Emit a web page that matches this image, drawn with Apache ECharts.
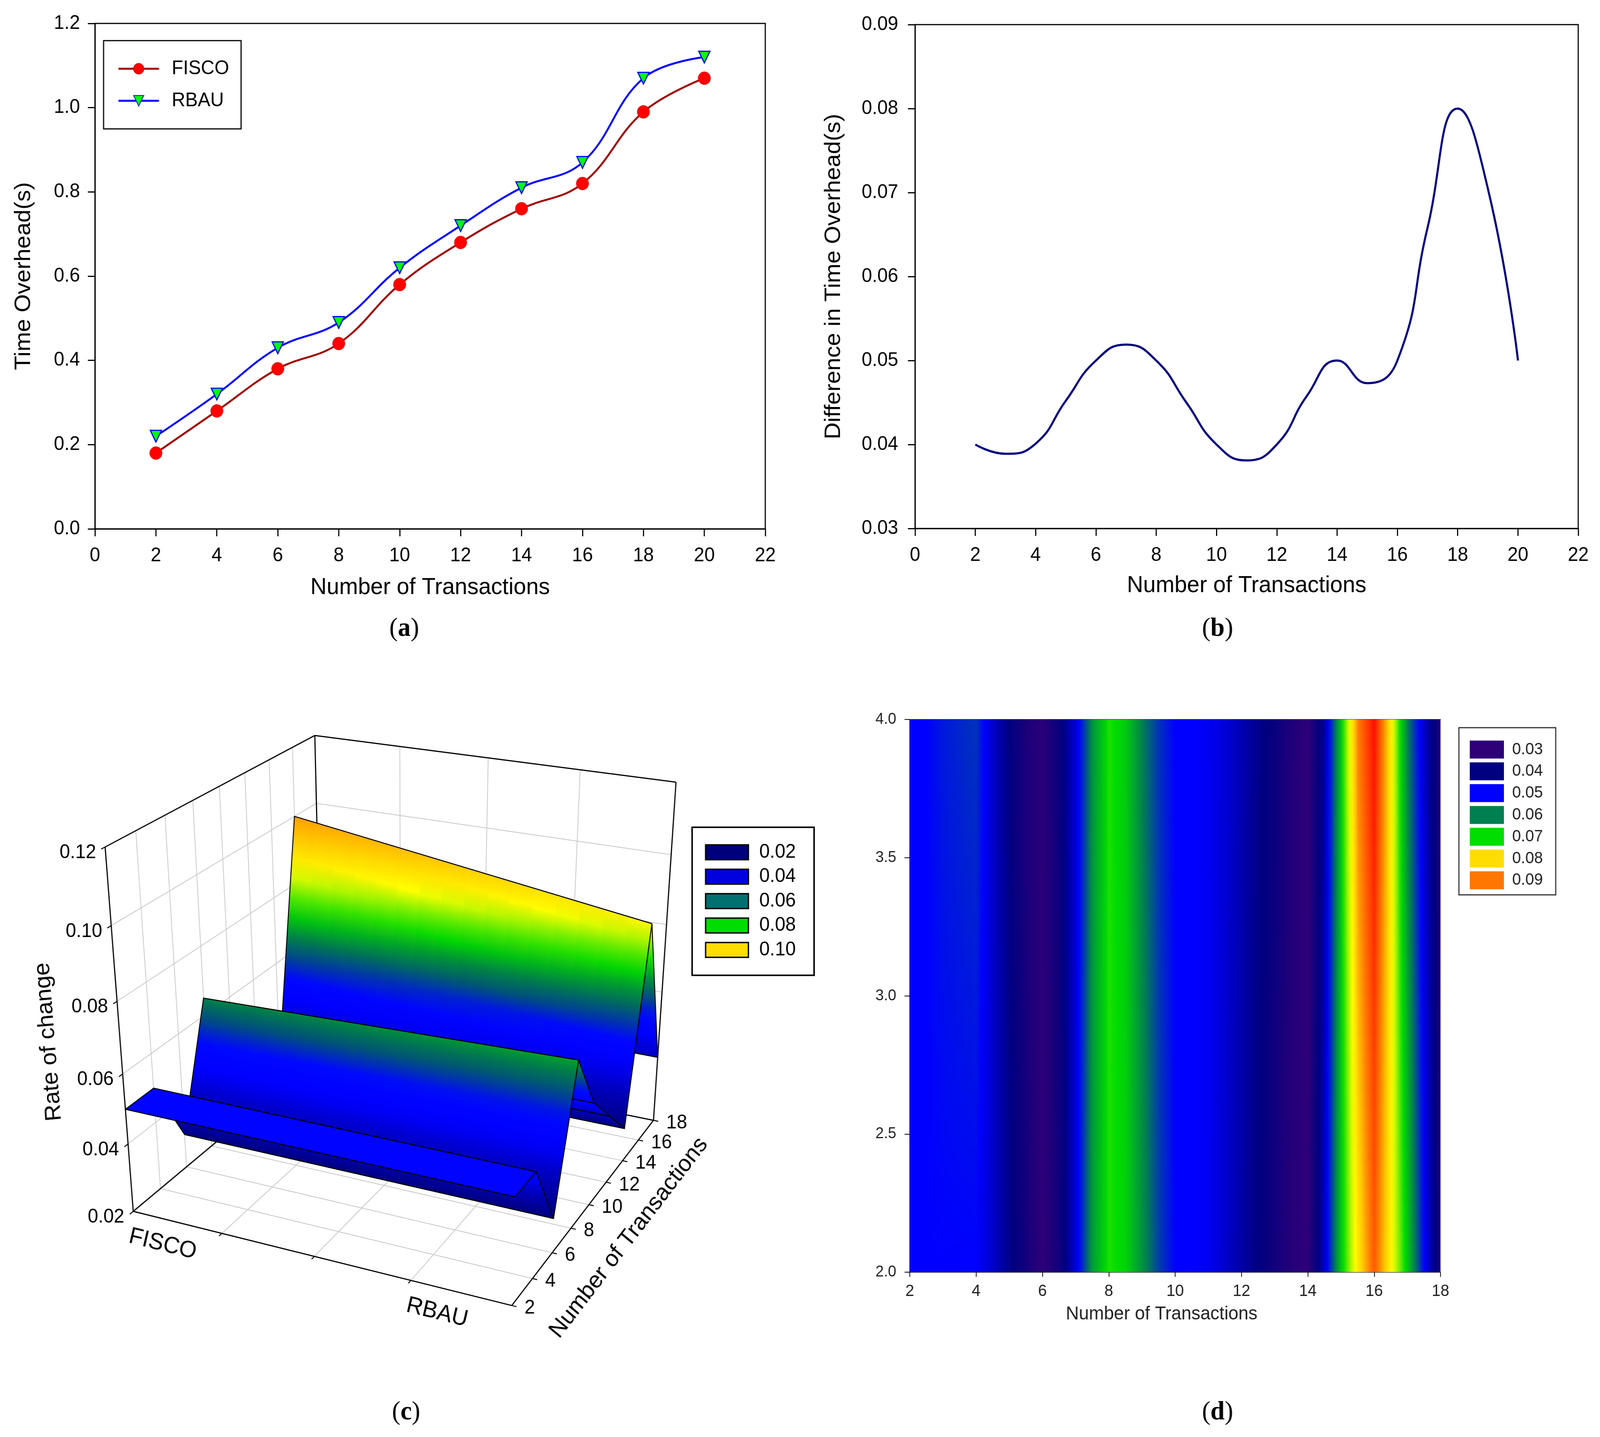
<!DOCTYPE html>
<html>
<head>
<meta charset="utf-8">
<title>Time overhead and rate of change</title>
<script src="https://cdn.jsdelivr.net/npm/echarts@6.0.0/dist/echarts.min.js"></script>
<style>
  html, body { margin: 0; padding: 0; background: #fff; overflow: hidden; }
  #main { width: 4263px; height: 3679px; transform-origin: 0 0; }
</style>
</head>
<body>
<div id="main"></div>
<script>
// (a) time overhead
var transactions = [2, 4, 6, 8, 10, 12, 14, 16, 18, 20];
var fiscoTime = [0.18, 0.28, 0.38, 0.44, 0.58, 0.68, 0.76, 0.82, 0.99, 1.07];
var rbauTime = [0.22, 0.32, 0.43, 0.49, 0.62, 0.72, 0.81, 0.87, 1.07, 1.12];

// (b) difference at every transaction count
var diffTransactions = [2, 3, 4, 5, 6, 7, 8, 9, 10, 11, 12, 13, 14, 15, 16, 17, 18, 19, 20];
var timeDiff = [0.0400, 0.0389, 0.0401, 0.0452, 0.0500, 0.0519, 0.0500, 0.0450, 0.0400, 0.0381,
  0.0400, 0.0458, 0.0500, 0.0473, 0.0500, 0.0658, 0.0800, 0.0705, 0.0500];

// (c) rate of change surface
var rateGroups = ['FISCO', 'RBAU'];
var rateTransactions = [2, 4, 6, 8, 10, 12, 14, 16, 18];
var rateFisco = [0.050, 0.050, 0.030, 0.065, 0.050, 0.040, 0.030, 0.100, 0.040];
var rateRbau = [0.050, 0.050, 0.030, 0.068, 0.050, 0.040, 0.030, 0.085, 0.040];
var rateTicks = [0.02, 0.04, 0.06, 0.08, 0.10, 0.12];
var rateLegendLevels = [0.02, 0.04, 0.06, 0.08, 0.10];

// (d) contour, read along the two edges y = 2.0 and y = 4.0
var contourX = [2, 2.5, 3, 3.5, 4, 4.5, 5, 5.5, 6, 6.5, 7, 7.5, 8, 8.5, 9, 9.5, 10,
  10.5, 11, 11.5, 12, 12.5, 13, 13.5, 14, 14.5, 15, 15.5, 16, 16.5, 17, 17.5, 18];
var contourRows = [2.0, 4.0];
var contourAt2 = [0.050, 0.050, 0.050, 0.050, 0.050, 0.046, 0.041, 0.036, 0.030, 0.036, 0.047,
  0.063, 0.071, 0.069, 0.062, 0.055, 0.050, 0.050, 0.049, 0.046, 0.043, 0.040, 0.036, 0.032,
  0.030, 0.046, 0.068, 0.082, 0.093, 0.081, 0.068, 0.050, 0.035];
var contourAt4 = [0.050, 0.050, 0.052, 0.053, 0.054, 0.046, 0.040, 0.034, 0.031, 0.038, 0.047,
  0.062, 0.071, 0.068, 0.060, 0.054, 0.050, 0.050, 0.049, 0.047, 0.044, 0.041, 0.038, 0.033,
  0.030, 0.043, 0.068, 0.090, 0.099, 0.082, 0.060, 0.046, 0.034];
var contourLegendLevels = [0.03, 0.04, 0.05, 0.06, 0.07, 0.08, 0.09];

// colours
var rateLegendColors = ['#00007c', '#0000e0', '#007070', '#00dd00', '#ffdd00'];
var rateRamp = [[0.020, '#000058'], [0.030, '#000080'], [0.040, '#0000c0'], [0.047, '#0000ff'],
  [0.054, '#0008ff'], [0.060, '#00507a'], [0.066, '#008840'], [0.072, '#00d800'],
  [0.078, '#70ee00'], [0.084, '#ffff00'], [0.092, '#ffd200'], [0.100, '#ffa000'], [0.120, '#ff6000']];
var contourLegendColors = ['#2e0078', '#000080', '#0000ff', '#008050', '#00dd00', '#ffdd00', '#ff7700'];
var contourRamp = [[0.030, '#2e0078'], [0.040, '#000080'], [0.050, '#0000ff'], [0.060, '#008050'],
  [0.070, '#00dd00'], [0.075, '#90f000'], [0.080, '#ffff00'], [0.085, '#ffd000'],
  [0.090, '#ff8000'], [0.100, '#ff0000']];

var SANS = 'Liberation Sans';
var SERIF = 'Liberation Serif';

function hexRgb(h) {
  return [parseInt(h.slice(1, 3), 16), parseInt(h.slice(3, 5), 16), parseInt(h.slice(5, 7), 16)];
}
function rampColor(ramp, v) {
  if (v <= ramp[0][0]) return ramp[0][1];
  for (var i = 1; i < ramp.length; i++) {
    if (v <= ramp[i][0]) {
      var t = (v - ramp[i - 1][0]) / (ramp[i][0] - ramp[i - 1][0]);
      var a = hexRgb(ramp[i - 1][1]), b = hexRgb(ramp[i][1]);
      return 'rgb(' + Math.round(a[0] + (b[0] - a[0]) * t) + ',' +
        Math.round(a[1] + (b[1] - a[1]) * t) + ',' + Math.round(a[2] + (b[2] - a[2]) * t) + ')';
    }
  }
  return ramp[ramp.length - 1][1];
}

// ---- 3D box of panel (c): perspective fitted to where the box corners sit on the page
// [u (group), v (transactions), w (rate), pageX, pageY], all of u, v, w in 0..1
var boxRefs = [
  [0, 0, 0, 356, 3100], [0, 0, 1, 281, 2168], [1, 0, 0, 1362, 3342],
  [1, 1, 0, 1742, 2867], [1, 1, 1, 1801, 2003], [0, 1, 1, 837, 1883],
  [0, 0, 0.2, 342, 2930], [0, 0, 0.4, 327, 2752], [0, 0, 0.6, 312, 2565], [0, 0, 0.8, 296, 2366],
  [0.25, 0, 0, 590, 3157], [0.5, 0, 0, 835, 3217], [0.75, 0, 0, 1097, 3279],
  [0.25, 1, 1, 1066, 1911], [0.5, 1, 1, 1301, 1941], [0.75, 1, 1, 1546, 1971]
];

function fitProjection(refs) {
  var n = 11, M = [], b = [], i, j;
  for (i = 0; i < n; i++) { M.push([0, 0, 0, 0, 0, 0, 0, 0, 0, 0, 0]); b.push(0); }
  refs.forEach(function (q) {
    var X = q[0], Y = q[1], Z = q[2], x = (q[3] - 1000) / 1000, y = (q[4] - 2600) / 1000;
    [[[X, Y, Z, 1, 0, 0, 0, 0, -x * X, -x * Y, -x * Z], x],
     [[0, 0, 0, 0, X, Y, Z, 1, -y * X, -y * Y, -y * Z], y]].forEach(function (eq) {
      var row = eq[0];
      for (var r = 0; r < n; r++) {
        b[r] += row[r] * eq[1];
        for (var c = 0; c < n; c++) M[r][c] += row[r] * row[c];
      }
    });
  });
  for (var c = 0; c < n; c++) {
    var piv = c;
    for (i = c + 1; i < n; i++) if (Math.abs(M[i][c]) > Math.abs(M[piv][c])) piv = i;
    var tmp = M[c]; M[c] = M[piv]; M[piv] = tmp;
    var tb = b[c]; b[c] = b[piv]; b[piv] = tb;
    for (i = c + 1; i < n; i++) {
      var f = M[i][c] / M[c][c];
      for (j = c; j < n; j++) M[i][j] -= f * M[c][j];
      b[i] -= f * b[c];
    }
  }
  var p = new Array(n);
  for (i = n - 1; i >= 0; i--) {
    var s = b[i];
    for (j = i + 1; j < n; j++) s -= M[i][j] * p[j];
    p[i] = s / M[i][i];
  }
  return p;
}
var P = fitProjection(boxRefs);
function project(u, v, w) {
  var d = P[8] * u + P[9] * v + P[10] * w + 1;
  return [1000 + 1000 * (P[0] * u + P[1] * v + P[2] * w + P[3]) / d,
          2600 + 1000 * (P[4] * u + P[5] * v + P[6] * w + P[7]) / d];
}
function ntToV(nt) { return (nt - 2) / 16; }
function rateToW(r) { return (r - 0.02) / 0.10; }
function unit(a, b) {
  var dx = b[0] - a[0], dy = b[1] - a[1], l = Math.sqrt(dx * dx + dy * dy) || 1;
  return [dx / l, dy / l];
}

function renderFrame(params, api) {
  var els = [];
  var gray = '#c8c8c8';
  function seg(a, b, color, width) {
    els.push({ type: 'line', silent: true, shape: { x1: a[0], y1: a[1], x2: b[0], y2: b[1] },
      style: { stroke: color, lineWidth: width } });
  }
  function label(x, y, text, size, align, rotation) {
    els.push({ type: 'text', silent: true, x: x, y: y, rotation: rotation || 0,
      style: { text: text, fill: '#000', fontSize: size, fontFamily: SANS,
        align: align, verticalAlign: 'middle' } });
  }
  var vTicks = rateTransactions.map(ntToV);
  var wTicks = rateTicks.map(rateToW);
  var uTicks = [0.25, 0.5, 0.75];
  vTicks.forEach(function (v) { if (v > 0 && v < 1) seg(project(0, v, 0), project(0, v, 1), gray, 2); });
  wTicks.forEach(function (w) { if (w > 0 && w < 1) seg(project(0, 0, w), project(0, 1, w), gray, 2); });
  uTicks.forEach(function (u) { seg(project(u, 1, 0), project(u, 1, 1), gray, 2); });
  wTicks.forEach(function (w) { if (w > 0 && w < 1) seg(project(0, 1, w), project(1, 1, w), gray, 2); });
  uTicks.forEach(function (u) { seg(project(u, 0, 0), project(u, 1, 0), gray, 2); });
  vTicks.forEach(function (v) { if (v > 0 && v < 1) seg(project(0, v, 0), project(1, v, 0), gray, 2); });

  [[0, 0, 0, 0, 0, 1], [0, 0, 1, 0, 1, 1], [0, 1, 1, 1, 1, 1], [1, 1, 1, 1, 1, 0],
   [1, 1, 0, 1, 0, 0], [1, 0, 0, 0, 0, 0], [0, 1, 1, 0, 1, 0], [0, 1, 0, 1, 1, 0],
   [0, 0, 0, 0, 1, 0]].forEach(function (e) {
    seg(project(e[0], e[1], e[2]), project(e[3], e[4], e[5]), '#000', 3);
  });

  wTicks.forEach(function (w, k) {
    var p = project(0, 0, w), d = unit(p, project(0, -0.1, w));
    seg(p, [p[0] + d[0] * 12, p[1] + d[1] * 12], '#000', 2.5);
    label(p[0] - 24, p[1] + 15, rateTicks[k].toFixed(2), 50, 'right');
  });
  vTicks.forEach(function (v, k) {
    var p = project(1, v, 0), d = unit(p, project(1.1, v, 0));
    seg(p, [p[0] + d[0] * 13, p[1] + d[1] * 13], '#000', 2.5);
    label(p[0] + 34, p[1] + 7, String(rateTransactions[k]), 50, 'left');
  });
  uTicks.forEach(function (u) {
    var p = project(u, 0, 0), d = unit(p, project(u, -0.1, 0));
    seg(p, [p[0] + d[0] * 10, p[1] + d[1] * 10], '#000', 2.5);
  });
  var e = unit(project(0, 0, 0), project(1, 0, 0));
  var groupU = [0.1, 0.83];
  rateGroups.forEach(function (g, k) {
    var p = project(groupU[k], 0, 0);
    label(p[0] - e[1] * 64, p[1] + e[0] * 64, g, 60, 'center', -Math.atan2(e[1], e[0]));
  });
  var zMid = project(0, 0, 0.5), zDir = unit(project(0, 0, 0), project(0, 0, 1));
  label(zMid[0] - 190, zMid[1] + 10, 'Rate of change', 60, 'center', Math.atan2(-zDir[1], zDir[0]));
  var yMid = project(1, 0.5, 0), yDir = unit(project(1, 0, 0), project(1, 1, 0));
  label(yMid[0] - yDir[1] * 136, yMid[1] + yDir[0] * 136, 'Number of Transactions', 60, 'center',
    Math.atan2(-yDir[1], yDir[0]));
  return { type: 'group', children: els };
}

function surfaceRate(u, i) { return rateFisco[i] + (rateRbau[i] - rateFisco[i]) * u; }
function surfacePoint(u, i) {
  return project(u, ntToV(rateTransactions[i]), rateToW(surfaceRate(u, i)));
}

function renderStrip(params, api) {
  var i = api.value(0), pieces = 16, kids = [];
  for (var k = 0; k < pieces; k++) {
    var ua = k / pieces, ub = Math.min(1, (k + 1.3) / pieces), uc = (k + 0.5) / pieces;
    var a0 = surfacePoint(ua, i), b0 = surfacePoint(ub, i);
    var b1 = surfacePoint(ub, i + 1), a1 = surfacePoint(ua, i + 1);
    var z0 = surfaceRate(uc, i), z1 = surfaceRate(uc, i + 1);
    var c0 = surfacePoint(uc, i), c1 = surfacePoint(uc, i + 1);
    var ed = unit(a0, b0), nx = -ed[1], ny = ed[0];
    var dist = (c1[0] - c0[0]) * nx + (c1[1] - c0[1]) * ny;
    var fill;
    if (Math.abs(dist) < 1 || Math.abs(z1 - z0) < 1e-6) {
      fill = rampColor(rateRamp, (z0 + z1) / 2);
    } else {
      var stops = [];
      for (var s = 0; s <= 12; s++) {
        stops.push({ offset: s / 12, color: rampColor(rateRamp, z0 + (z1 - z0) * s / 12) });
      }
      fill = new echarts.graphic.LinearGradient(c0[0], c0[1], c0[0] + dist * nx, c0[1] + dist * ny, stops, true);
    }
    kids.push({ type: 'polygon', silent: true, shape: { points: [a0, b0, b1, a1] }, style: { fill: fill } });
  }
  kids.push({ type: 'polygon', silent: true,
    shape: { points: [surfacePoint(0, i), surfacePoint(1, i), surfacePoint(1, i + 1), surfacePoint(0, i + 1)] },
    style: { fill: 'none', stroke: '#000', lineWidth: 2.5, lineJoin: 'round' } });
  return { type: 'group', children: kids };
}

function renderContour(params, api) {
  var i = api.value(2);
  var tl = api.coord([contourX[i], contourRows[1]]);
  var br = api.coord([contourX[i + 1], contourRows[0]]);
  var slices = 40, h = (br[1] - tl[1]) / slices, kids = [];
  for (var s = 0; s < slices; s++) {
    var t = (s + 0.5) / slices;
    var va = contourAt4[i] + (contourAt2[i] - contourAt4[i]) * t;
    var vb = contourAt4[i + 1] + (contourAt2[i + 1] - contourAt4[i + 1]) * t;
    var stops = [];
    for (var k = 0; k <= 6; k++) {
      stops.push({ offset: k / 6, color: rampColor(contourRamp, va + (vb - va) * k / 6) });
    }
    kids.push({ type: 'rect', silent: true,
      shape: { x: tl[0], y: tl[1] + s * h, width: br[0] - tl[0] + 1, height: h + 1 },
      style: { fill: new echarts.graphic.LinearGradient(0, 0, 1, 0, stops) } });
  }
  return { type: 'group', children: kids };
}

function axisStyle(o) {
  var base = {
    type: 'value',
    axisLine: { show: true, onZero: false, lineStyle: { color: '#000', width: 3 } },
    axisTick: { show: true, length: 19, lineStyle: { color: '#000', width: 3 } },
    axisLabel: { color: '#000', fontSize: 50, fontFamily: SANS, margin: 44 },
    splitLine: { show: false },
    nameLocation: 'middle',
    nameTextStyle: { color: '#000', fontSize: 60, fontFamily: SANS }
  };
  for (var k in o) base[k] = o[k];
  return base;
}

var graphics = [];
[['a', 1077, 1610], ['b', 3244, 1610], ['c', 1082, 3616], ['d', 3244, 3616]].forEach(function (p) {
  graphics.push({ type: 'text', x: p[1], y: p[2], silent: true,
    style: { text: '{n|(}{b|' + p[0] + '}{n|)}', align: 'center', verticalAlign: 'middle',
      rich: { n: { fontFamily: SERIF, fontSize: 68, fill: '#000' },
              b: { fontFamily: SERIF, fontSize: 68, fontWeight: 'bold', fill: '#000' } } } });
});
graphics.push({ type: 'rect', silent: true, shape: { x: 1844, y: 2118, width: 325, height: 379 },
  style: { fill: '#fff', stroke: '#000', lineWidth: 4 } });
rateLegendLevels.forEach(function (lv, k) {
  var cy = 2182 + k * 62.5;
  graphics.push({ type: 'rect', silent: true, shape: { x: 1880, y: cy - 19, width: 114, height: 38 },
    style: { fill: rateLegendColors[k], stroke: '#000', lineWidth: 3.5 } });
  graphics.push({ type: 'text', silent: true, x: 2023, y: cy,
    style: { text: lv.toFixed(2), fontSize: 50, fontFamily: SANS, fill: '#000', align: 'left', verticalAlign: 'middle' } });
});
graphics.push({ type: 'rect', silent: true, shape: { x: 3887, y: 1863, width: 258, height: 428 },
  style: { fill: '#fff', stroke: '#333', lineWidth: 3 } });
contourLegendLevels.forEach(function (lv, k) {
  var cy = 1919 + k * 55.8;
  graphics.push({ type: 'rect', silent: true, shape: { x: 3916, y: cy - 23, width: 91, height: 46 },
    style: { fill: contourLegendColors[k] } });
  graphics.push({ type: 'text', silent: true, x: 4029, y: cy,
    style: { text: lv.toFixed(2), fontSize: 42, fontFamily: SANS, fill: '#222', align: 'left', verticalAlign: 'middle' } });
});

// the window may be narrower than the 4263 x 3679 page: squeeze the page to fit it
var mainEl = document.getElementById('main');
var fitX = Math.min(1, window.innerWidth / 4263), fitY = Math.min(1, window.innerHeight / 3679);
if (fitX < 1 || fitY < 1) mainEl.style.transform = 'scale(' + fitX + ',' + fitY + ')';

var chart = echarts.init(mainEl);
var option = {
  animation: false,
  backgroundColor: '#ffffff',
  textStyle: { fontFamily: SANS },
  grid: [
    { left: 253, top: 60, width: 1786, height: 1294, show: true, borderColor: '#000', borderWidth: 3 },
    { left: 2438, top: 63, width: 1767, height: 1290, show: true, borderColor: '#000', borderWidth: 3 },
    { left: 2424, top: 1842, width: 1414, height: 1415 }
  ],
  xAxis: [
    axisStyle({ gridIndex: 0, min: 0, max: 22, interval: 2, name: 'Number of Transactions', nameGap: 120 }),
    axisStyle({ gridIndex: 1, min: 0, max: 22, interval: 2, name: 'Number of Transactions', nameGap: 116 }),
    axisStyle({ gridIndex: 2, min: 2, max: 18, interval: 2, name: 'Number of Transactions', nameGap: 84,
      axisLine: { show: true, onZero: false, lineStyle: { color: '#000', width: 2 } },
      axisTick: { show: true, length: 12, lineStyle: { color: '#000', width: 2 } },
      axisLabel: { color: '#222', fontSize: 42, fontFamily: SANS, margin: 28 },
      nameTextStyle: { color: '#222', fontSize: 48, fontFamily: SANS, padding: [0, 72, 0, 0] } }),
    { type: 'value', gridIndex: 2, position: 'top', min: 2, max: 18,
      axisLine: { show: true, onZero: false, lineStyle: { color: '#333', width: 2 } },
      axisTick: { show: false }, axisLabel: { show: false }, splitLine: { show: false } }
  ],
  yAxis: [
    axisStyle({ gridIndex: 0, min: 0, max: 1.2, interval: 0.2, name: 'Time Overhead(s)', nameGap: 160,
      axisLabel: { color: '#000', fontSize: 50, fontFamily: SANS, margin: 40,
        formatter: function (v) { return v.toFixed(1); } } }),
    axisStyle({ gridIndex: 1, min: 0.03, max: 0.09, interval: 0.01, name: 'Difference in Time Overhead(s)', nameGap: 187,
      axisLabel: { color: '#000', fontSize: 50, fontFamily: SANS, margin: 45,
        formatter: function (v) { return v.toFixed(2); } } }),
    axisStyle({ gridIndex: 2, min: 2, max: 4, interval: 0.5,
      axisLine: { show: true, onZero: false, lineStyle: { color: '#000', width: 2 } },
      axisTick: { show: true, length: 14, lineStyle: { color: '#000', width: 2 } },
      axisLabel: { color: '#222', fontSize: 40, fontFamily: SANS, margin: 36,
        formatter: function (v) { return v.toFixed(1); } } })
  ],
  legend: {
    data: ['FISCO', 'RBAU'],
    orient: 'vertical',
    left: 276,
    top: 104,
    padding: [47, 32, 47, 37],
    itemGap: 32,
    itemWidth: 108,
    itemHeight: 34,
    borderColor: '#000',
    borderWidth: 3,
    backgroundColor: '#fff',
    lineStyle: { width: 5 },
    textStyle: { color: '#000', fontSize: 50, fontFamily: SANS, lineHeight: 34, padding: [0, 0, 0, 29] }
  },
  series: [
    {
      name: 'FISCO', type: 'line', xAxisIndex: 0, yAxisIndex: 0,
      data: transactions.map(function (x, i) { return [x, fiscoTime[i]]; }),
      smooth: 0.4, symbol: 'circle', symbolSize: 33,
      lineStyle: { color: '#a00000', width: 5 },
      itemStyle: { color: '#ff0000', borderColor: '#d00000', borderWidth: 1 }
    },
    {
      name: 'RBAU', type: 'line', xAxisIndex: 0, yAxisIndex: 0,
      data: transactions.map(function (x, i) { return [x, rbauTime[i]]; }),
      smooth: 0.4, symbol: 'triangle', symbolRotate: 180, symbolSize: 30,
      lineStyle: { color: '#0000ff', width: 5 },
      itemStyle: { color: '#00ff00', borderColor: '#0000ff', borderWidth: 3 }
    },
    {
      name: 'Difference', type: 'line', xAxisIndex: 1, yAxisIndex: 1,
      data: diffTransactions.map(function (x, i) { return [x, timeDiff[i]]; }),
      smooth: 0.5, symbol: 'none',
      lineStyle: { color: '#000080', width: 5.5 }
    },
    {
      name: 'Contour', type: 'custom', xAxisIndex: 2, yAxisIndex: 2, clip: true,
      renderItem: renderContour,
      encode: { x: [0, 1] },
      data: contourX.slice(0, -1).map(function (x, i) { return [x, contourX[i + 1], i]; })
    },
    {
      name: 'Box', type: 'custom', coordinateSystem: 'none', silent: true, z: 2,
      renderItem: renderFrame, data: [[0]]
    },
    {
      name: 'Surface', type: 'custom', coordinateSystem: 'none', silent: true, z: 3,
      renderItem: renderStrip,
      data: rateTransactions.slice(0, -1).map(function (nt, i) { return [i]; }).reverse()
    }
  ],
  graphic: graphics
};
chart.setOption(option);
</script>
</body>
</html>
